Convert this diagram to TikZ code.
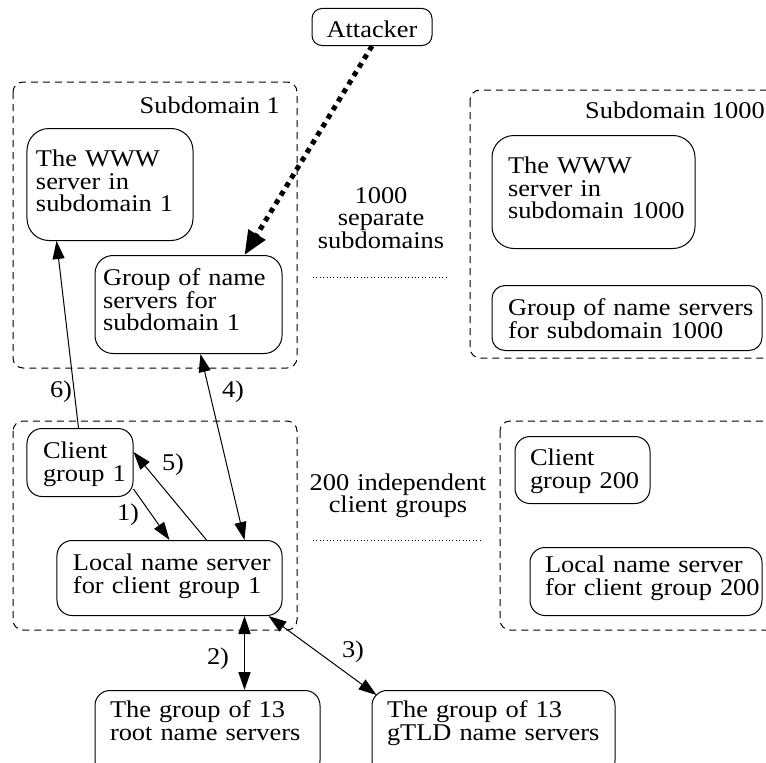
\documentclass[tikz,border=0pt]{standalone}
\usepackage{fontspec}
\setmainfont{Liberation Serif}[FakeStretch=1.1]
\usetikzlibrary{arrows.meta,calc}

\tikzset{
  box/.style={draw, line width=1bp, rounded corners=#1, inner ysep=0pt, anchor=north},
  box/.default=15bp,
  tbox/.style={box=#1, align=left},
  tbox/.default=15bp,
  group/.style={draw, line width=1bp, dash pattern=on 7bp off 5bp, rounded corners=10bp},
  dots/.style={line width=0.9bp, dash pattern=on 1bp off 2.4bp},
  link/.style={line width=1bp, -{Triangle[length=18bp,width=12bp]}},
  twoway/.style={line width=1bp, {Triangle[length=18bp,width=12bp]}-{Triangle[length=18bp,width=12bp]}},
  attack/.style={line width=5bp, dash pattern=on 5bp off 5bp,
    -{Triangle[length=24bp,width=19bp]}},
  lab/.style={inner sep=0pt},
}
% one unbreakable line of box text
\newcommand\boxline[1]{\mbox{#1}}

\begin{document}
\begin{tikzpicture}[x=1bp, y=-1bp, font=\fontsize{24bp}{22.5bp}\selectfont]
\useasboundingbox (0,0) rectangle (766,763);
\clip (0,0) rectangle (766,763);

% dashed containers
\draw[group] (13,82) rectangle (297,368);
\draw[group] (470,90) rectangle (800,358);
\draw[group] (13,421) rectangle (297,630);
\draw[group] (500,421) rectangle (800,630);

\node[lab, anchor=base east] (sub1) at (280,113) {Subdomain 1};
\node[lab, anchor=base east] (sub1000) at (765,118) {Subdomain 1000};

% attacker
\node[box=10bp, inner xsep=0pt, minimum width=120bp, text height=29bp, text depth=8bp]
  (attacker) at (372,8) {Attacker};

% subdomain 1
\node[tbox=22bp, text width=148bp, inner xsep=9bp, text height=38bp, text depth=74bp]
  (www1) at (110,128) {\boxline{The WWW}\\\boxline{server in}\\\boxline{subdomain 1}};
\node[tbox=18bp, text width=171bp, inner xsep=8bp, text height=30bp, text depth=68bp]
  (ns1) at (188.5,255) {\boxline{Group of name}\\\boxline{servers for}\\\boxline{subdomain 1}};

% subdomain 1000
\node[tbox=22bp, text width=171bp, inner xsep=16bp, text height=38bp, text depth=75bp]
  (www1000) at (593.5,135) {\boxline{The WWW}\\\boxline{server in}\\\boxline{subdomain 1000}};
\node[tbox=13bp, text width=238bp, inner xsep=16bp, text height=30bp, text depth=35bp]
  (ns1000) at (627,285) {\boxline{Group of name servers}\\\boxline{for subdomain 1000}};

% client group 1
\node[tbox, text width=74bp, inner xsep=16bp, text height=30bp, text depth=38bp]
  (client1) at (80,428) {\boxline{Client}\\\boxline{group 1}};
\node[tbox, text width=193bp, inner xsep=16bp, text height=30bp, text depth=45bp]
  (lns1) at (169.5,540) {\boxline{Local name server}\\\boxline{for client group 1}};

% client group 200
\node[tbox, text width=105bp, inner xsep=15bp, text height=29bp, text depth=38bp]
  (client200) at (582.5,436) {\boxline{Client}\\\boxline{group 200}};
\node[tbox, text width=202bp, inner xsep=15bp, text height=25bp, text depth=43bp]
  (lns200) at (646,547) {\boxline{Local name server}\\\boxline{for client group 200}};

% root and gTLD servers
\node[tbox, text width=195bp, inner xsep=15bp, text height=27bp, text depth=58bp]
  (root) at (207.5,690) {\boxline{The group of 13}\\\boxline{root name servers}};
\node[tbox, text width=213bp, inner xsep=15bp, text height=27bp, text depth=58bp]
  (gtld) at (493.5,690) {\boxline{The group of 13}\\\boxline{gTLD name servers}};

% notes between the columns
\node[align=center, text width=150bp, anchor=base] (subnote) at (381,203)
  {1000\\separate\\subdomains};
\draw[dots] (313,277) -- (447,277);
\node[align=center, text width=200bp, anchor=base] (clientnote) at (398,490)
  {200 independent\\client groups};
\draw[dots] (313,540) -- (483,540);

% connectors
\draw[attack] (attacker.south) -- ($(ns1.north west)+(150,0)$);
\draw[link] ($(client1.north west)+(52,0)$) -- ($(www1.south west)+(30,0)$);
\draw[twoway] ($(lns1.north west)+(188,0)$) -- ($(ns1.south west)+(106,0)$);
\draw[link] ($(client1.south east)+(0,-8)$) -- ($(lns1.north west)+(113,0)$);
\draw[link] ($(lns1.north west)+(150,0)$) -- ($(client1.north east)+(0,24)$);
\draw[twoway, line width=1.7bp] ($(lns1.south west)+(188,0)$) -- ($(root.north west)+(150,0)$);
\draw[twoway] ($(lns1.south east)+(-14,0)$) -- ($(gtld.north west)+(5,5)$);

% step labels
\node[lab] (l1) at (128,515) {1)};
\node[lab] (l2) at (218,659) {2)};
\node[lab] (l3) at (353,652) {3)};
\node[lab] (l4) at (233,392) {4)};
\node[lab] (l5) at (173,465) {5)};
\node[lab] (l6) at (61,392) {6)};
\end{tikzpicture}
\end{document}
